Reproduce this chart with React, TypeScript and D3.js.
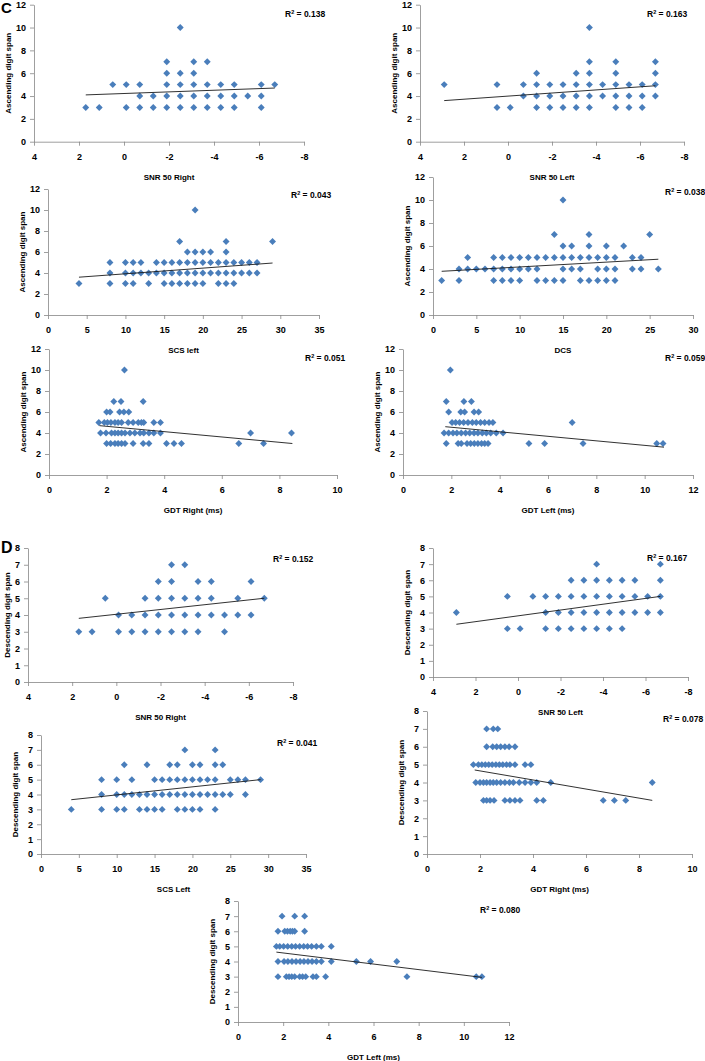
import React, { useEffect, useRef } from 'react';
import * as d3 from 'd3';

// [x value, digit spans at that x]
type Column = [number, number[]];
// [digit span, x values on that row]
type Row = [number, number[]];

// ---- C: ascending digit span ----
const ascSnrRight: Column[] = [
  [1.7, [3]], [1.1, [3]], [0.5, [5]], [-0.1, [5, 3]], [-0.7, [5, 4, 3]],
  [-1.3, [4, 3]], [-1.9, [7, 6, 5, 4, 3]], [-2.5, [10, 6, 5, 4, 3]],
  [-3.1, [7, 6, 5, 4, 3]], [-3.7, [7, 5, 4, 3]], [-4.3, [5, 4, 3]],
  [-4.9, [5, 4, 3]], [-5.5, [4]], [-6.1, [5, 4, 3]], [-6.7, [5]]
];

const ascSnrLeft: Column[] = [
  [2.9, [5]], [0.5, [5, 3]], [-0.1, [3]], [-0.7, [5, 4]], [-1.3, [6, 5, 4, 3]],
  [-1.9, [5, 4, 3]], [-2.5, [5, 4, 3]], [-3.1, [6, 5, 4, 3]],
  [-3.7, [10, 7, 6, 5, 4, 3]], [-4.3, [5, 4]], [-4.9, [7, 6, 5, 4, 3]],
  [-5.5, [5, 4, 3]], [-6.1, [5, 4, 3]], [-6.7, [7, 6, 5, 4]]
];

const ascScsLeft: Column[] = [
  [4, [3]], [8, [5, 4, 3]], [10, [5, 4, 3]], [11, [5, 4, 3]], [12, [5, 4]],
  [13, [4, 3]], [14, [5, 4]], [15, [5, 4, 3]], [16, [5, 4, 3]], [17, [7, 5, 4, 3]],
  [18, [6, 5, 4, 3]], [19, [10, 6, 5, 4, 3]], [20, [6, 5, 4, 3]], [21, [6, 5, 4]],
  [22, [5, 4, 3]], [23, [7, 6, 5, 4, 3]], [24, [5, 4, 3]], [25, [5, 4]],
  [26, [5, 4]], [27, [5, 4]], [29, [7]]
];

const ascDcs: Column[] = [
  [1, [3]], [3, [4, 3]], [4, [5, 4]], [5, [4]], [6, [4]], [7, [5, 4, 3]],
  [8, [5, 4, 3]], [9, [5, 4, 3]], [10, [5, 4, 3]], [11, [5, 4]], [12, [5, 4, 3]],
  [13, [5, 3]], [14, [7, 5, 3]], [15, [10, 6, 5, 4, 3]], [16, [6, 5, 4]],
  [17, [5, 4, 3]], [18, [7, 6, 5, 3]], [19, [5, 4, 3]], [20, [6, 5, 4, 3]],
  [21, [5, 4, 3]], [22, [6]], [23, [5, 4]], [24, [5, 4]], [25, [7]], [26, [4]]
];

const ascGdtRight: Row[] = [
  [10, [2.62]],
  [7, [2.25, 2.5, 3.27]],
  [6, [2.0, 2.12, 2.45, 2.6, 2.77]],
  [5, [1.73, 1.92, 2.03, 2.15, 2.29, 2.4, 2.52, 2.75, 2.92, 3.1, 3.21, 3.29, 3.64, 3.87]],
  [4, [1.79, 1.98, 2.17, 2.29, 2.4, 2.52, 2.64, 2.81, 2.98, 3.16, 3.29, 3.47, 3.64, 3.87, 7.0, 8.42]],
  [3, [2.0, 2.14, 2.29, 2.4, 2.52, 2.64, 2.92, 3.27, 3.47, 4.08, 4.34, 4.6, 6.59, 7.45]]
];

const ascGdtLeft: Row[] = [
  [10, [1.96]],
  [7, [1.79, 2.52, 2.83]],
  [6, [1.89, 2.39, 2.55, 2.94, 3.13]],
  [5, [2.03, 2.18, 2.34, 2.51, 2.69, 2.87, 3.03, 3.21, 3.38, 3.56, 3.72, 7.0]],
  [4, [1.7, 1.89, 2.07, 2.23, 2.41, 2.59, 2.76, 2.94, 3.1, 3.28, 3.45, 3.63, 3.86, 4.14]],
  [3, [1.79, 2.28, 2.41, 2.65, 2.8, 2.95, 3.1, 3.25, 3.38, 3.52, 5.21, 5.86, 7.45, 10.5, 10.76]]
];

// ---- D: descending digit span ----
const descSnrRight: Column[] = [
  [1.7, [3]], [1.1, [3]], [0.5, [5]], [-0.1, [4, 3]], [-0.7, [4, 3]],
  [-1.3, [5, 4, 3]], [-1.9, [6, 5, 4, 3]], [-2.5, [7, 6, 5, 4, 3]],
  [-3.1, [7, 5, 4, 3]], [-3.7, [6, 5, 4, 3]], [-4.3, [6, 5, 4]],
  [-4.9, [4, 3]], [-5.5, [5, 4]], [-6.1, [6, 4]], [-6.7, [5]]
];

const descSnrLeft: Column[] = [
  [2.9, [4]], [0.5, [5, 3]], [-0.1, [3]], [-0.7, [5]], [-1.3, [5, 4, 3]],
  [-1.9, [5, 4, 3]], [-2.5, [6, 5, 4, 3]], [-3.1, [6, 5, 4, 3]],
  [-3.7, [7, 6, 5, 4, 3]], [-4.3, [6, 5, 4, 3]], [-4.9, [6, 5, 4, 3]],
  [-5.5, [6, 5, 4]], [-6.1, [5, 4]], [-6.7, [7, 6, 5, 4]]
];

const descScsLeft: Column[] = [
  [4, [3]], [8, [5, 4, 3]], [10, [5, 4, 3]], [11, [6, 4, 3]], [12, [5, 4]],
  [13, [4, 3]], [14, [6, 4, 3]], [15, [5, 4, 3]], [16, [5, 4, 3]], [17, [6, 5, 4]],
  [18, [6, 5, 4, 3]], [19, [7, 5, 4, 3]], [20, [6, 5, 4, 3]], [21, [6, 5, 4, 3]],
  [22, [5, 4]], [23, [7, 6, 5, 4, 3]], [24, [6, 4]], [25, [5, 4]], [26, [5]],
  [27, [5, 4]], [29, [5]]
];

const descGdtRight: Row[] = [
  [7, [2.25, 2.5, 2.67]],
  [6, [2.25, 2.48, 2.63, 2.78, 2.94, 3.1, 3.32]],
  [5, [1.75, 1.94, 2.07, 2.2, 2.33, 2.46, 2.6, 2.73, 2.86, 3.0, 3.13, 3.32, 3.7, 3.92]],
  [4, [1.84, 2.0, 2.13, 2.25, 2.38, 2.5, 2.63, 2.78, 2.94, 3.11, 3.26, 3.48, 3.7, 3.92, 4.14, 4.67, 8.5]],
  [3, [2.13, 2.25, 2.38, 2.53, 2.94, 3.13, 3.32, 3.51, 4.14, 4.39, 6.65, 7.07, 7.5]]
];

const descGdtLeft: Row[] = [
  [7, [1.95, 2.51, 2.95]],
  [6, [1.77, 2.07, 2.19, 2.31, 2.41, 2.51, 2.95]],
  [5, [1.7, 1.85, 2.02, 2.2, 2.38, 2.55, 2.73, 2.91, 3.08, 3.26, 3.47, 3.69, 4.13]],
  [4, [1.77, 2.04, 2.21, 2.39, 2.57, 2.75, 2.92, 3.1, 3.28, 3.47, 3.69, 4.13, 5.24, 5.87, 7.03]],
  [3, [1.77, 2.14, 2.26, 2.38, 2.51, 2.73, 2.86, 3.0, 3.32, 3.47, 3.88, 7.48, 10.55, 10.8]]
];

// Linear trend lines, end points
const trendLines: [number, number][][] = [
  [[1.7, 4.1], [-6.7, 4.7]],
  [[2.9, 3.6], [-6.7, 4.9]],
  [[4, 3.6], [29, 4.95]],
  [[1, 3.8], [26, 4.85]],
  [[1.75, 4.7], [8.45, 3.0]],
  [[1.75, 4.6], [10.8, 2.65]],
  [[1.7, 3.8], [-6.7, 5.0]],
  [[2.9, 3.27], [-6.7, 5.0]],
  [[4, 3.65], [29, 5.0]],
  [[1.8, 4.7], [8.5, 3.0]],
  [[1.7, 4.62], [10.8, 2.95]]
];

const r2Values = ['0.138', '0.163', '0.043', '0.038', '0.051', '0.059', '0.152', '0.167', '0.041', '0.078', '0.080'];

const xTitles = [
  'SNR 50 Right', 'SNR 50 Left', 'SCS left', 'DCS', 'GDT Right (ms)', 'GDT Left (ms)',
  'SNR 50 Right', 'SNR 50 Left', 'SCS Left', 'GDT Right (ms)', 'GDT Left (ms)'
];

// tick labels
const snrTicks = [4, 2, 0, -2, -4, -6, -8];
const scs35Ticks = [0, 5, 10, 15, 20, 25, 30, 35];
const dcsTicks = [0, 5, 10, 15, 20, 25, 30];
const gdt10Ticks = [0, 2, 4, 6, 8, 10];
const gdt12Ticks = [0, 2, 4, 6, 8, 10, 12];
const ascTicks = [0, 2, 4, 6, 8, 10, 12];
const descTicks = [0, 1, 2, 3, 4, 5, 6, 7, 8];

const fromColumns = (cols: Column[]) => cols.flatMap(([x, ys]) => ys.map(y => [x, y] as [number, number]));
const fromRows = (rows: Row[]) => rows.flatMap(([y, xs]) => xs.map(x => [x, y] as [number, number]));

const panels = [
  { points: fromColumns(ascSnrRight), xTicks: snrTicks, yTicks: ascTicks, yTitle: 'Ascending digit span' },
  { points: fromColumns(ascSnrLeft), xTicks: snrTicks, yTicks: ascTicks, yTitle: 'Ascending digit span' },
  { points: fromColumns(ascScsLeft), xTicks: scs35Ticks, yTicks: ascTicks, yTitle: 'Ascending digit span' },
  { points: fromColumns(ascDcs), xTicks: dcsTicks, yTicks: ascTicks, yTitle: 'Ascending digit span' },
  { points: fromRows(ascGdtRight), xTicks: gdt10Ticks, yTicks: ascTicks, yTitle: 'Ascending digit span' },
  { points: fromRows(ascGdtLeft), xTicks: gdt12Ticks, yTicks: ascTicks, yTitle: 'Ascending digit span' },
  { points: fromColumns(descSnrRight), xTicks: snrTicks, yTicks: descTicks, yTitle: 'Descending digit span' },
  { points: fromColumns(descSnrLeft), xTicks: snrTicks, yTicks: descTicks, yTitle: 'Descending digit span' },
  { points: fromColumns(descScsLeft), xTicks: scs35Ticks, yTicks: descTicks, yTitle: 'Descending digit span' },
  { points: fromRows(descGdtRight), xTicks: gdt10Ticks, yTicks: descTicks, yTitle: 'Descending digit span' },
  { points: fromRows(descGdtLeft), xTicks: gdt12Ticks, yTicks: descTicks, yTitle: 'Descending digit span' }
];

// plot boxes in page pixels
const layout = [
  { left: 34, right: 304, top: 4.7, bottom: 141.7, r2x: 285, r2y: 17 },
  { left: 420, right: 684, top: 4.7, bottom: 141.7, r2x: 647, r2y: 17 },
  { left: 48, right: 319, top: 189, bottom: 315, r2x: 291, r2y: 198 },
  { left: 433, right: 693, top: 177, bottom: 315, r2x: 665, r2y: 195 },
  { left: 49, right: 337, top: 349, bottom: 475, r2x: 305, r2y: 361 },
  { left: 403, right: 693, top: 349, bottom: 475, r2x: 665, r2y: 361 },
  { left: 28, right: 293, top: 548, bottom: 682, r2x: 273, r2y: 562 },
  { left: 433, right: 688, top: 548, bottom: 677, r2x: 647, r2y: 561 },
  { left: 41, right: 306, top: 735, bottom: 854, r2x: 277, r2y: 746 },
  { left: 427, right: 692, top: 711, bottom: 854, r2x: 663, r2y: 722 },
  { left: 238, right: 509, top: 901, bottom: 1022, r2x: 480, r2y: 913 }
];

const FONT = '"Liberation Sans", Arial, sans-serif';
const AXIS_COLOR = '#868686';
const MARKER = '#4a7ebb';

export default function App() {
  const ref = useRef<SVGSVGElement>(null);

  useEffect(() => {
    const svg = d3.select(ref.current);
    svg.selectAll('*').remove();

    svg.append('rect').attr('width', 705).attr('height', 1061).attr('fill', '#fff');

    const diamond = d3.symbol().type(d3.symbolSquare).size(24)();

    panels.forEach((p, i) => {
      const box = layout[i];
      const g = svg.append('g');

      const x = d3.scaleLinear()
        .domain([p.xTicks[0], p.xTicks[p.xTicks.length - 1]])
        .range([box.left, box.right]);
      const y = d3.scaleLinear()
        .domain([p.yTicks[0], p.yTicks[p.yTicks.length - 1]])
        .range([box.bottom, box.top]);

      // axes
      const xAxis = g.append('g')
        .attr('transform', `translate(0,${box.bottom})`)
        .call(d3.axisBottom(x).tickValues(p.xTicks).tickSize(4).tickSizeOuter(0).tickPadding(8).tickFormat(d => String(d)));
      const yAxis = g.append('g')
        .attr('transform', `translate(${box.left},0)`)
        .call(d3.axisLeft(y).tickValues(p.yTicks).tickSize(4).tickSizeOuter(0).tickPadding(4).tickFormat(d => String(d)));

      [xAxis, yAxis].forEach(a => {
        a.select('.domain').attr('stroke', AXIS_COLOR).attr('stroke-width', 0.8);
        a.selectAll('line').attr('stroke', AXIS_COLOR).attr('stroke-width', 0.8);
        a.selectAll('text')
          .attr('font-family', FONT)
          .attr('font-size', 9)
          .attr('font-weight', 'bold')
          .attr('fill', '#000');
      });

      // points
      g.selectAll('path.pt')
        .data(p.points)
        .enter()
        .append('path')
        .attr('class', 'pt')
        .attr('d', diamond)
        .attr('fill', MARKER)
        .attr('transform', d => `translate(${x(d[0])},${y(d[1])}) rotate(45)`);

      // trend line
      const t = trendLines[i];
      g.append('line')
        .attr('x1', x(t[0][0]))
        .attr('y1', y(t[0][1]))
        .attr('x2', x(t[1][0]))
        .attr('y2', y(t[1][1]))
        .attr('stroke', '#1a1a1a')
        .attr('stroke-width', 0.9);

      // axis titles
      g.append('text')
        .attr('x', (box.left + box.right) / 2)
        .attr('y', box.bottom + 38)
        .attr('text-anchor', 'middle')
        .attr('font-family', FONT)
        .attr('font-size', 8)
        .attr('font-weight', 'bold')
        .text(xTitles[i]);

      const titleX = Math.max(box.left - 26, 7);
      g.append('text')
        .attr('transform', `translate(${titleX},${(box.top + box.bottom) / 2}) rotate(-90)`)
        .attr('text-anchor', 'middle')
        .attr('dy', '0.35em')
        .attr('font-family', FONT)
        .attr('font-size', 8)
        .attr('font-weight', 'bold')
        .text(p.yTitle);

      // R squared
      const r2 = g.append('text')
        .attr('x', box.r2x)
        .attr('y', box.r2y)
        .attr('font-family', FONT)
        .attr('font-size', 8.5)
        .attr('font-weight', 'bold');
      r2.append('tspan').text('R');
      r2.append('tspan').attr('font-size', 5.5).attr('dy', -3).text('2');
      r2.append('tspan').attr('dy', 3).text(` = ${r2Values[i]}`);
    });

    // panel letters
    svg.append('text')
      .attr('x', 1).attr('y', 13)
      .attr('font-family', FONT).attr('font-size', 15).attr('font-weight', 'bold')
      .text('C');
    svg.append('text')
      .attr('x', 1).attr('y', 553)
      .attr('font-family', FONT).attr('font-size', 16).attr('font-weight', 'bold')
      .text('D');
  }, []);

  return (
    <svg
      ref={ref}
      width={705}
      height={1061}
      style={{ position: 'absolute', left: 0, top: 0 }}
    />
  );
}
